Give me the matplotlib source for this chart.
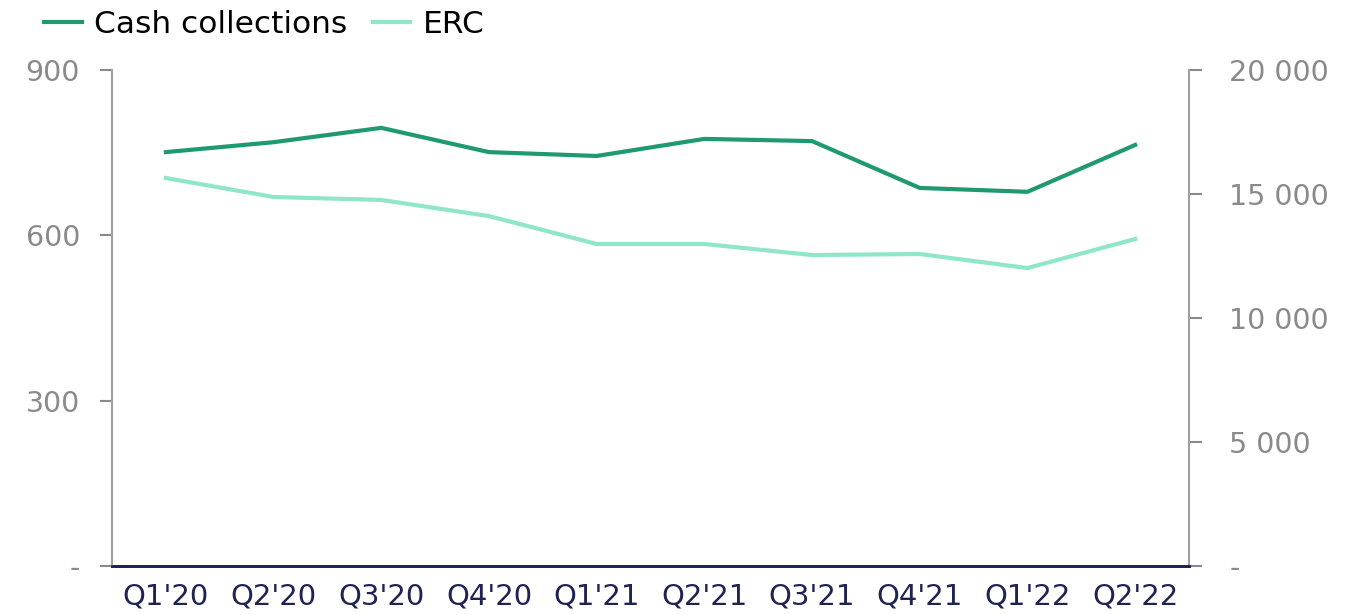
import matplotlib
matplotlib.use("Agg")
import matplotlib.pyplot as plt
from matplotlib.ticker import FuncFormatter

categories = ["Q1'20", "Q2'20", "Q3'20", "Q4'20", "Q1'21", "Q2'21", "Q3'21", "Q4'21", "Q1'22", "Q2'22"]
cash_collections = [751, 769, 795, 751, 744, 775, 771, 686, 679, 764]
erc = [15645, 14880, 14760, 14110, 12985, 12985, 12540, 12580, 12015, 13185]
left_ticks = [0, 300, 600, 900]
right_ticks = [0, 5000, 10000, 15000, 20000]

plt.rcParams['font.family'] = ['DejaVu Sans']

fig = plt.figure(figsize=(13.49, 6.15), dpi=100)
ax = fig.add_axes([112/1349, 49/615, (1189-112)/1349, (566-70)/615])
ax2 = ax.twinx()

x = list(range(len(categories)))
c1 = "#1f9a6e"
c2 = "#8fe6c8"
l1, = ax.plot(x, cash_collections, color=c1, lw=3, label="Cash collections")
l2, = ax2.plot(x, erc, color=c2, lw=3, label="ERC")
ax.set_zorder(ax2.get_zorder() + 1)
ax.patch.set_visible(False)

ax.set_xlim(-0.5, len(categories) - 0.5)
ax.set_ylim(0, 900)
ax2.set_ylim(0, 20000)
ax.set_yticks(left_ticks)
ax2.set_yticks(right_ticks)

def fmt_left(v, p):
    return "-" if v == 0 else f"{int(v)}"

def fmt_right(v, p):
    return "-" if v == 0 else f"{int(v):,}".replace(",", " ")

ax.yaxis.set_major_formatter(FuncFormatter(fmt_left))
ax2.yaxis.set_major_formatter(FuncFormatter(fmt_right))

ax.set_xticks(x)
ax.set_xticklabels(categories)

gray = "#8a8a8a"
navy = "#1f2352"
for a in (ax, ax2):
    a.spines['top'].set_visible(False)
    a.spines['left'].set_color("#a0a0a0")
    a.spines['right'].set_color("#a0a0a0")
    a.spines['left'].set_linewidth(1.5)
    a.spines['right'].set_linewidth(1.5)
    a.spines['bottom'].set_color(navy)
    a.spines['bottom'].set_linewidth(2)
ax.spines['right'].set_visible(False)
ax2.spines['left'].set_visible(False)

ax.tick_params(axis='y', colors=gray, labelsize=20.5, length=9, width=1.5, pad=14, direction='out')
ax2.tick_params(axis='y', colors=gray, labelsize=20.5, length=9, width=1.5, pad=20, direction='out')
ax.tick_params(axis='x', colors=navy, labelsize=21, length=0, pad=12)
for t in ax.get_yticklabels() + ax2.get_yticklabels():
    t.set_color(gray)

fig.legend(handles=[l1, l2], loc='upper left', bbox_to_anchor=(0.012, 1.03), ncol=2,
           frameon=False, fontsize=22.5, handlelength=1.2, handletextpad=0.4, columnspacing=0.8)

fig.savefig("out.png", dpi=100)
